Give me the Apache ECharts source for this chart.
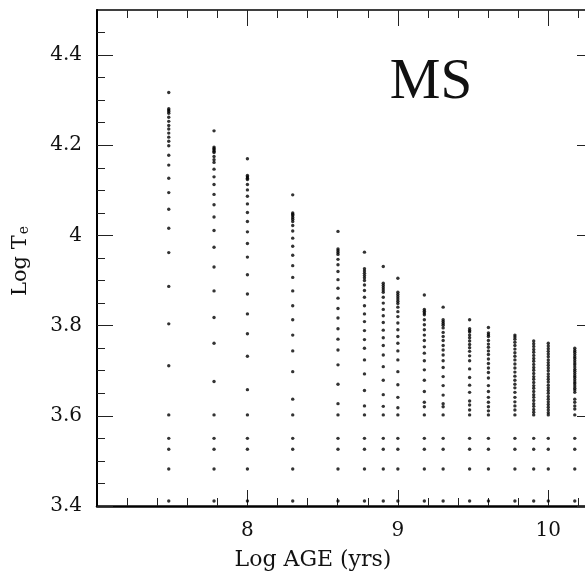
<!DOCTYPE html>
<html>
<head>
<meta charset="utf-8">
<script src="https://cdn.jsdelivr.net/npm/echarts@6/dist/echarts.min.js"></script>
<style>html,body{margin:0;padding:0;background:#fff}#c{width:585px;height:575px}</style>
</head>
<body>
<div id="c"></div>
<script>
// Log age of each isochrone column
var logAge = [7.477, 7.778, 8.0, 8.301, 8.602, 8.778, 8.903, 9.0, 9.176, 9.301, 9.477, 9.602, 9.778, 9.903, 10.0, 10.176];

// Log Te values per column (upper part)
var te_7_48 = [4.317, 4.281, 4.278, 4.275, 4.271, 4.262, 4.253, 4.244, 4.236, 4.227, 4.218, 4.209, 4.199, 4.178, 4.156, 4.127, 4.095, 4.058, 4.016, 3.962, 3.887, 3.804, 3.711, 3.602];
var te_7_78 = [4.232, 4.196, 4.193, 4.190, 4.187, 4.184, 4.175, 4.168, 4.162, 4.147, 4.130, 4.113, 4.091, 4.068, 4.041, 4.011, 3.974, 3.930, 3.877, 3.818, 3.761, 3.676, 3.602];
var te_8_00 = [4.170, 4.133, 4.130, 4.127, 4.124, 4.113, 4.101, 4.087, 4.070, 4.051, 4.031, 4.008, 3.982, 3.952, 3.913, 3.870, 3.826, 3.782, 3.732, 3.658, 3.602];
var te_8_30 = [4.090, 4.050, 4.047, 4.044, 4.040, 4.036, 4.031, 4.022, 4.010, 3.994, 3.976, 3.956, 3.933, 3.907, 3.877, 3.844, 3.813, 3.779, 3.744, 3.698, 3.637, 3.602];
var te_8_60 = [4.009, 3.970, 3.966, 3.962, 3.958, 3.947, 3.935, 3.920, 3.902, 3.883, 3.861, 3.838, 3.817, 3.793, 3.770, 3.746, 3.713, 3.670, 3.627, 3.602];
var te_8_78 = [3.963, 3.926, 3.921, 3.916, 3.911, 3.906, 3.900, 3.890, 3.878, 3.863, 3.844, 3.826, 3.809, 3.789, 3.769, 3.750, 3.724, 3.693, 3.656, 3.622, 3.602];
var te_8_90 = [3.931, 3.894, 3.889, 3.884, 3.879, 3.874, 3.863, 3.850, 3.836, 3.822, 3.807, 3.790, 3.773, 3.756, 3.735, 3.709, 3.679, 3.647, 3.621, 3.602];
var te_9_00 = [3.905, 3.874, 3.869, 3.864, 3.859, 3.854, 3.849, 3.841, 3.831, 3.820, 3.806, 3.791, 3.776, 3.761, 3.744, 3.724, 3.698, 3.669, 3.641, 3.618, 3.602];
var te_9_18 = [3.868, 3.836, 3.832, 3.828, 3.824, 3.813, 3.802, 3.791, 3.779, 3.767, 3.753, 3.739, 3.722, 3.702, 3.679, 3.654, 3.630, 3.620, 3.602];
var te_9_30 = [3.841, 3.813, 3.809, 3.805, 3.801, 3.795, 3.785, 3.776, 3.767, 3.756, 3.746, 3.735, 3.722, 3.707, 3.687, 3.667, 3.646, 3.627, 3.620, 3.602];
var te_9_48 = [3.813, 3.793, 3.789, 3.786, 3.779, 3.773, 3.766, 3.758, 3.751, 3.743, 3.733, 3.722, 3.704, 3.685, 3.668, 3.652, 3.633, 3.624, 3.613, 3.602];
var te_9_60 = [3.796, 3.784, 3.780, 3.776, 3.767, 3.759, 3.752, 3.744, 3.736, 3.726, 3.716, 3.706, 3.696, 3.684, 3.667, 3.654, 3.641, 3.630, 3.620, 3.611, 3.602];
var te_9_78 = [3.779, 3.775, 3.770, 3.763, 3.756, 3.748, 3.740, 3.732, 3.724, 3.715, 3.706, 3.697, 3.688, 3.679, 3.670, 3.662, 3.652, 3.641, 3.631, 3.622, 3.613, 3.602];
var te_9_90 = [3.766, 3.760, 3.754, 3.747, 3.741, 3.734, 3.727, 3.721, 3.714, 3.707, 3.701, 3.694, 3.687, 3.681, 3.674, 3.667, 3.661, 3.654, 3.647, 3.641, 3.634, 3.627, 3.621, 3.614, 3.608, 3.602];
var te_10_00 = [3.761, 3.755, 3.749, 3.743, 3.737, 3.731, 3.724, 3.718, 3.712, 3.706, 3.700, 3.693, 3.687, 3.681, 3.675, 3.668, 3.662, 3.656, 3.650, 3.643, 3.637, 3.631, 3.625, 3.619, 3.613, 3.607, 3.602];
var te_10_18 = [3.750, 3.745, 3.741, 3.736, 3.731, 3.727, 3.722, 3.717, 3.713, 3.708, 3.703, 3.699, 3.694, 3.689, 3.685, 3.680, 3.675, 3.671, 3.666, 3.661, 3.657, 3.652, 3.637, 3.630, 3.622, 3.615, 3.602];

// Low-mass points shared by every column
var teLow = [3.550, 3.526, 3.482, 3.411];

var teColumns = [te_7_48, te_7_78, te_8_00, te_8_30, te_8_60, te_8_78, te_8_90, te_9_00,
                 te_9_18, te_9_30, te_9_48, te_9_60, te_9_78, te_9_90, te_10_00, te_10_18];

// Tick positions
var xMajorTicks = [8, 9, 10];
var xMinorTicks = [7.2, 7.4, 7.6, 7.8, 8.0, 8.2, 8.4, 8.6, 8.8, 9.0, 9.2, 9.4, 9.6, 9.8, 10.0, 10.2];
var yMajorTicks = [3.4, 3.6, 3.8, 4.0, 4.2, 4.4];
var yMinorTicks = [3.45, 3.5, 3.55, 3.6, 3.65, 3.7, 3.75, 3.8, 3.85, 3.9, 3.95, 4.0, 4.05, 4.1, 4.15, 4.2, 4.25, 4.3, 4.35, 4.4, 4.45];

var points = [];
for (var i = 0; i < logAge.length; i++) {
  var col = teColumns[i].concat(teLow);
  for (var j = 0; j < col.length; j++) points.push([logAge[i], col[j]]);
}

var XMIN = 7.0, XMAX = 10.244, YMIN = 3.4, YMAX = 4.5;
var FONT = 'DejaVu Serif';
var tickStyle = { color: '#222', width: 1 };

function xAx(pos, ticks, len, showLabel, showLine, lineW) {
  return {
    type: 'value', position: pos, min: XMIN, max: XMAX,
    axisLine: { show: showLine, onZero: false, lineStyle: { color: '#000', width: lineW } },
    axisTick: { show: true, inside: true, length: len, lineStyle: tickStyle, customValues: ticks },
    axisLabel: { show: showLabel, margin: 15, customValues: ticks,
                 color: '#111', fontFamily: FONT, fontSize: 20 },
    splitLine: { show: false }
  };
}
function yAx(pos, ticks, len, showTick, showLabel, showLine, lineW) {
  return {
    type: 'value', position: pos, min: YMIN, max: YMAX,
    axisLine: { show: showLine, onZero: false, lineStyle: { color: '#000', width: lineW } },
    axisTick: { show: showTick, inside: true, length: len, lineStyle: tickStyle, customValues: ticks },
    axisLabel: { show: showLabel, margin: 15, customValues: ticks,
                 color: '#111', fontFamily: FONT, fontSize: 20 },
    splitLine: { show: false }
  };
}

var chart = echarts.init(document.getElementById('c'), null, { renderer: 'canvas' });
chart.setOption({
  animation: false,
  backgroundColor: '#fff',
  grid: { left: 97, right: 0, top: 10, bottom: 69, containLabel: false },
  xAxis: [
    xAx('bottom', xMajorTicks, 16, true, true, 2.5),
    xAx('bottom', xMinorTicks, 8, false, false, 1),
    xAx('top', xMajorTicks, 16, false, true, 1.5),
    xAx('top', xMinorTicks, 8, false, false, 1)
  ],
  yAxis: [
    yAx('left', yMajorTicks, 16, true, true, true, 2),
    yAx('left', yMinorTicks, 8, true, false, false, 1),
    yAx('right', yMajorTicks, 8, true, false, false, 1)
  ],
  series: [{
    type: 'scatter', xAxisIndex: 0, yAxisIndex: 0,
    data: points, symbol: 'circle', symbolSize: 3.4,
    itemStyle: { color: '#000' }
  }],
  graphic: [
    { type: 'text', x: 431, y: 83,
      style: { text: 'MS', font: '57px "Liberation Serif"', fill: '#111',
               textAlign: 'center', textVerticalAlign: 'middle' } },
    { type: 'text', x: 313, y: 560,
      style: { text: 'Log AGE (yrs)', font: '22px "DejaVu Serif"', fill: '#111',
               textAlign: 'center', textVerticalAlign: 'middle' } },
    { type: 'text', x: 21, y: 261, rotation: Math.PI / 2,
      style: { text: '{a|Log T}{b|e}', textAlign: 'center', textVerticalAlign: 'middle', fill: '#111',
               rich: { a: { fontFamily: FONT, fontSize: 21, fill: '#111' },
                       b: { fontFamily: FONT, fontSize: 14, fill: '#111', verticalAlign: 'bottom', padding: [6, 0, 0, 1] } } } }
  ]
});
</script>
</body>
</html>
